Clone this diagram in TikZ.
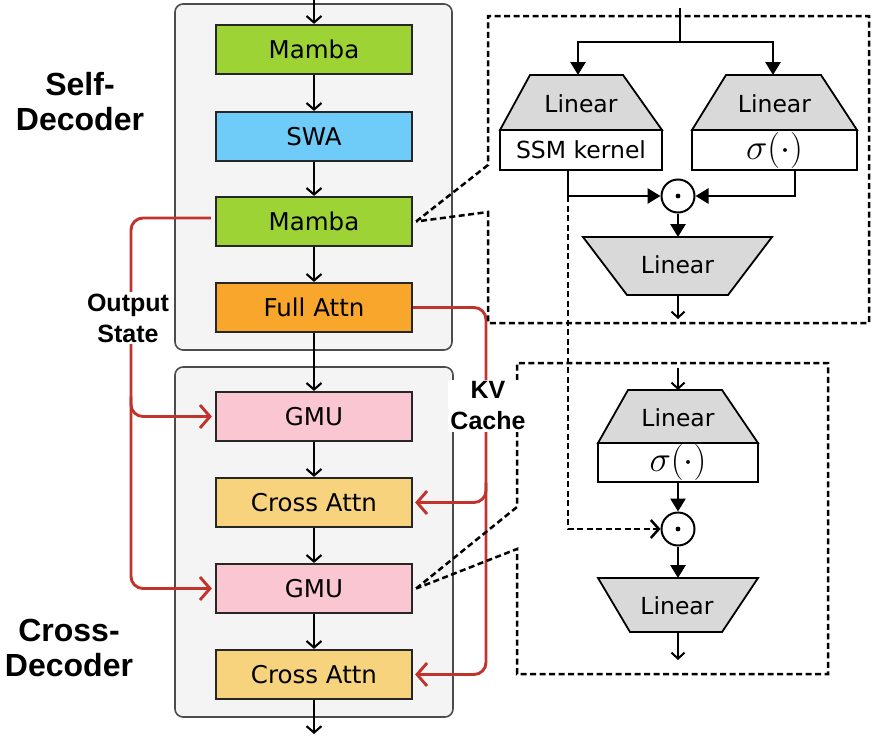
\documentclass[tikz,border=0pt]{standalone}
\usepackage{fontspec}
\setmainfont{DejaVu Sans}
\newfontfamily\lblfont{Liberation Sans}
\usetikzlibrary{arrows.meta}
\definecolor{mambaG}{HTML}{9DD334}
\definecolor{swaB}{HTML}{6FCBF8}
\definecolor{fullO}{HTML}{F8A62C}
\definecolor{gmuP}{HTML}{F9C6D2}
\definecolor{crossY}{HTML}{F8D37E}
\definecolor{contG}{HTML}{F4F4F4}
\definecolor{trapG}{HTML}{D9D9D9}
\definecolor{kvR}{HTML}{C1342E}
\newcommand{\sigdot}{\scalebox{1.45}{$\sigma(\cdot)$}}
\begin{document}
\begin{tikzpicture}[x=1pt,y=-1pt,
  blk/.style={draw=black!85, line width=2.2pt, minimum width=196pt, minimum height=49pt, inner sep=0pt, font=\fontsize{24.5}{29}\selectfont},
  cont/.style={fill=contG, draw=black!70, line width=1.6pt, rounded corners=8pt},
  mainar/.style={line width=2.1pt, -{Straight Barb[length=6.5pt,width=15pt]}},
  smallar/.style={line width=2pt, -{Straight Barb[length=6pt,width=13pt]}},
  filar/.style={line width=2.8pt, -{Triangle[length=13pt,width=15pt]}},
  plainln/.style={line width=2.8pt},
  redln/.style={kvR, line width=2.9pt, rounded corners=12pt, -{Straight Barb[length=10pt,width=23pt]}},
  dsh/.style={line width=2.5pt, dash pattern=on 6pt off 3.5pt},
  trap/.style={fill=trapG, draw=black, line width=1.8pt},
  wbox/.style={draw=black, fill=white, line width=1.8pt, inner sep=0pt, font=\fontsize{23.5}{28}\selectfont},
  txt/.style={inner sep=0pt, font=\fontsize{23.5}{28}\selectfont},
  odot/.style={circle, draw, line width=2pt, minimum size=33pt, inner sep=0pt, fill=white},
  lbl/.style={align=center, inner sep=2pt, font=\lblfont\bfseries\fontsize{25}{31}\selectfont},
  biglbl/.style={align=center, inner sep=0pt, font=\lblfont\bfseries\fontsize{32}{35}\selectfont}
]
\useasboundingbox[fill=white] (0,0) rectangle (876,736);

% containers
\draw[cont] (175,4) rectangle (452,350);
\draw[cont] (175,367) rectangle (453,717);

% main blocks
\node[blk, fill=mambaG] (m1) at (314,49.5) {Mamba};
\node[blk, fill=swaB] (swa) at (314,136.5) {SWA};
\node[blk, fill=mambaG] (m2) at (314,221.5) {Mamba};
\node[blk, fill=fullO] (fa) at (314,307.5) {Full Attn};
\node[blk, fill=gmuP] (g1) at (314,416.5) {GMU};
\node[blk, fill=crossY] (c1) at (314,502.5) {Cross Attn};
\node[blk, fill=gmuP] (g2) at (314,588.5) {GMU};
\node[blk, fill=crossY] (c2) at (314,674.5) {Cross Attn};

\coordinate (in) at (314,0);
\coordinate (out) at (314,734);
\draw[mainar] (in) -- (m1);
\draw[mainar] (m1) -- (swa);
\draw[mainar] (swa) -- (m2);
\draw[mainar] (m2) -- (fa);
\draw[mainar] (fa) -- (g1);
\draw[mainar] (g1) -- (c1);
\draw[mainar] (c1) -- (g2);
\draw[mainar] (g2) -- (c2);
\draw[mainar] (c2) -- (out);

% output state (red)
\coordinate (os) at (131,218);
\draw[redln] ([xshift=-4pt,yshift=3.5pt]m2.west) -- (os) -- (os |- g2.west) -- ([xshift=-3pt]g2.west);
\draw[redln] ([yshift=20pt]os |- g1.west) -- (os |- g1.west) -- ([xshift=-3pt]g1.west);

% KV cache (red)
\coordinate (kv) at (486,307.5);
\draw[redln] (fa.east) -- (kv) -- (kv |- c2.east) -- ([xshift=2pt]c2.east);
\draw[redln] ([yshift=20pt]kv |- c1.east) -- (kv |- c1.east) -- ([xshift=2pt]c1.east);

% callout dashed boxes
\draw[dsh] ([xshift=3pt]m2.east) -- (488,165) -- (488,16) -- (869,16) -- (869,323) -- (488,323) -- (488,212) -- ([xshift=3pt]m2.east);
\draw[dsh] ([xshift=3pt]g2.east) -- (517,507) -- (517,363) -- (828,363) -- (828,674) -- (517,674) -- (517,549) -- ([xshift=3pt]g2.east);

% ---- top detail (Mamba) ----
\coordinate (din) at (680,8);
\coordinate (split) at (680,42);
\coordinate (t1) at (578,75);
\coordinate (t2) at (773,75);
\draw[plainln] (din) -- (split);
\draw[filar] (split) -| (t1);
\draw[filar] (split) -| (t2);
\draw[trap] (530,75) -- (623,75) -- (662,130) -- (500,130) -- cycle;
\node[txt] (lin1) at (581,104) {Linear};
\node[wbox, minimum width=162pt, minimum height=40pt] (ssm) at (581,150) {SSM kernel};
\draw[trap] (726,75) -- (821,75) -- (857,130) -- (692,130) -- cycle;
\node[txt] (lin2) at (774.5,104) {Linear};
\node[wbox, minimum width=165pt, minimum height=40pt] (sig1) at (774.5,150) {\sigdot};
\node[odot] (od1) at (678,196) {};
\fill (od1.center) circle (2.4pt);
\coordinate (ssmo) at (568,170);
\coordinate (sigo) at (795,170);
\coordinate (ssmc) at (568,196);
\draw[filar] (ssmo) |- (od1.west);
\draw[filar] (sigo) |- (od1.east);
\coordinate (t3) at (678,237);
\draw[filar] (od1.south) -- (t3);
\draw[trap] (583,237) -- (772,237) -- (728,295) -- (627,295) -- cycle;
\node[txt] (lin3) at (677.5,265) {Linear};
\coordinate (o1a) at (678,295);
\coordinate (o1b) at (678,319);
\draw[smallar] (o1a) -- (o1b);

% ---- bottom detail (GMU) ----
\coordinate (bin) at (678,368);
\coordinate (t4) at (678,390);
\draw[smallar] (bin) -- (t4);
\draw[trap] (628,390) -- (722,390) -- (758,443) -- (598,443) -- cycle;
\node[txt] (lin4) at (678,418) {Linear};
\node[wbox, minimum width=160pt, minimum height=39pt] (sig2) at (678,462.5) {\sigdot};
\node[odot] (od2) at (678,529) {};
\fill (od2.center) circle (2.4pt);
\draw[filar] (sig2.south) -- (od2.north);
\coordinate (t5) at (678,578);
\draw[filar] (od2.south) -- (t5);
\draw[trap] (598,578) -- (758,578) -- (722,632) -- (630,632) -- cycle;
\node[txt] (lin5) at (677,606) {Linear};
\coordinate (o2a) at (678,632);
\coordinate (o2b) at (678,660);
\draw[smallar] (o2a) -- (o2b);

% dashed link from SSM branch to bottom gate
\draw[dsh, -{Straight Barb[length=8pt,width=18pt]}] (ssmc) -- (568,529) -- (od2.west);

% labels
\node[lbl, fill=white] (ost) at (128,318) {Output\\State};
\node[lbl, fill=white] (kvc) at (488,406) {KV\\Cache};
\node[biglbl] (selfd) at (80,102) {Self-\\Decoder};
\node[biglbl] (crossd) at (69,648) {Cross-\\Decoder};
\end{tikzpicture}
\end{document}
